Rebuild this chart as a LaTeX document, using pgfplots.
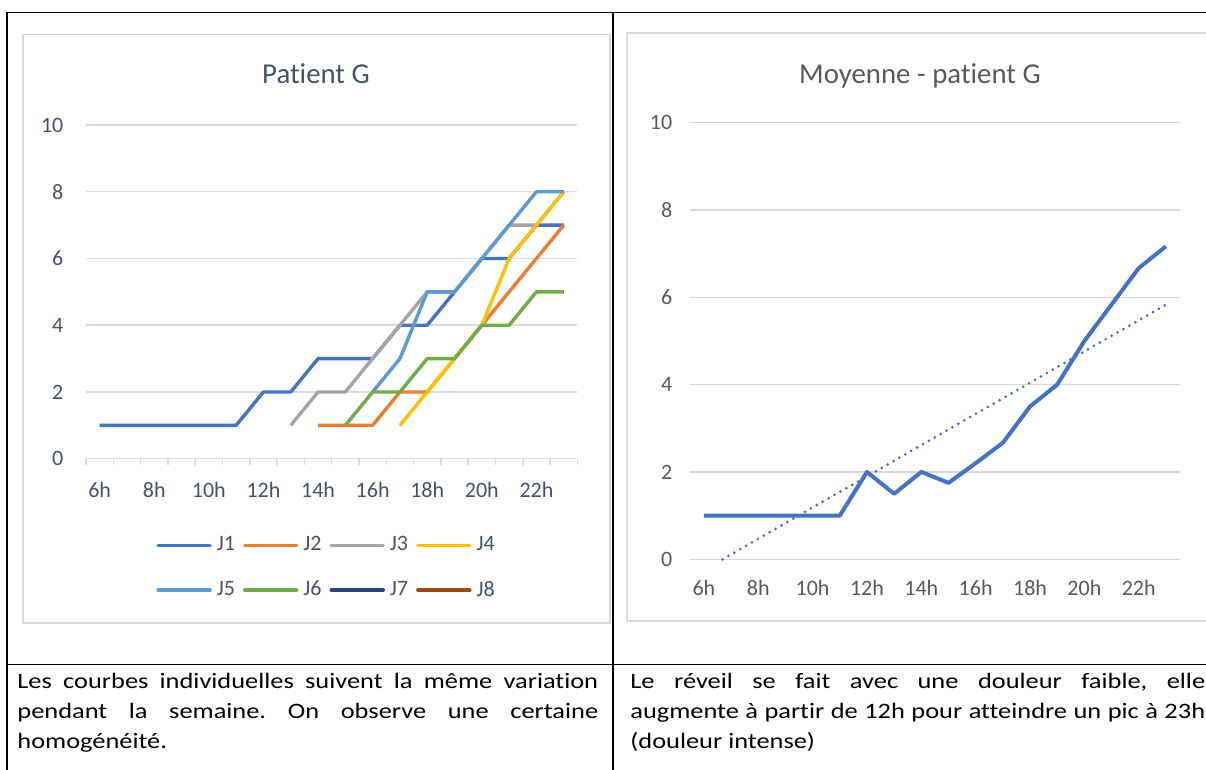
\documentclass[border=0pt]{standalone}
\usepackage{fontspec}
\setmainfont{Carlito}[Ligatures={NoCommon}]
\usepackage{graphicx}
\usepackage{pgfplots}
\pgfplotsset{compat=1.18}

\definecolor{cJ1}{HTML}{4472C4}
\definecolor{cJ2}{HTML}{ED7D31}
\definecolor{cJ3}{HTML}{A5A5A5}
\definecolor{cJ4}{HTML}{FFC000}
\definecolor{cJ5}{HTML}{5B9BD5}
\definecolor{cJ6}{HTML}{70AD47}
\definecolor{cJ7}{HTML}{264478}
\definecolor{cJ8}{HTML}{9E480E}
\definecolor{cTxtL}{HTML}{44546A}
\definecolor{cTxtR}{HTML}{595959}
\definecolor{cGridL}{HTML}{D6DCE5}
\definecolor{cGridR}{HTML}{D9D9D9}
\definecolor{cFrame}{HTML}{D9D9D9}

\begin{document}
\frenchspacing
\begin{tikzpicture}
\useasboundingbox (0pt,0pt) rectangle (603pt,-385pt);
\begin{scope}[x=0.5pt,y=-0.5pt]
 \draw[black, line width=0.8pt] (7,12.7) -- (1212,12.7);
 \draw[black, line width=0.8pt] (7,12.3) -- (7,775);
 \draw[black, line width=0.8pt] (613,12.3) -- (613,775);
 \draw[black, line width=0.8pt] (7,664.5) -- (1212,664.5);
 \draw[cFrame, line width=0.8pt] (23,34.5) rectangle (610,622.7);
 \draw[cFrame, line width=0.8pt] (1212,33) -- (627,33) -- (627,621) -- (1212,621);
\end{scope}

\node[anchor=base west, inner sep=0pt] at (8.5pt,-344pt) {\scalebox{1.2}[1]{\parbox[t]{242pt}{\fontsize{11}{15}\selectfont\frenchspacing\tolerance=10000\hbadness=10000 Les courbes individuelles suivent la même variation\linebreak pendant la semaine. On observe une certaine\linebreak homogénéité.}}};
\node[anchor=base west, inner sep=0pt] at (315pt,-344pt) {\scalebox{1.2}[1]{\parbox[t]{239.5pt}{\fontsize{11}{15}\selectfont\frenchspacing\tolerance=10000\hbadness=10000 Le réveil se fait avec une douleur faible, elle\linebreak augmente à partir de 12h pour atteindre un pic à 23h\linebreak (douleur intense)}}};

% ---------------- left chart ----------------
\begin{axis}[
  at={(43pt,-229.35pt)}, anchor=south west,
  scale only axis, width=245.7pt, height=166.85pt,
  xmin=5.5, xmax=23.5, ymin=0, ymax=10, clip=false,
  xtick={6,8,...,22}, xticklabels={6h,8h,10h,12h,14h,16h,18h,20h,22h},
  minor xtick={5.5,6.5,...,23.5},
  ytick={0,2,...,10},
  ymajorgrids, major grid style={draw=cGridL, line width=0.75pt},
  axis line style={draw=none},
  tick align=outside, xtick pos=left, ytick pos=left,
  major tick length=0pt, minor tick length=3pt,
  minor tick style={draw=cGridL, line width=0.75pt},
  /pgf/number format/assume math mode=true,
  ticklabel style={font=\fontsize{11}{13}\selectfont, text=cTxtL},
  xticklabel shift=8pt, yticklabel shift=7.8pt,
  title={Patient G},
  title style={font=\fontsize{14.4}{17}\selectfont, text=cTxtL, at={(0.5,1)}, anchor=base, yshift=14.8pt, xshift=-7.85pt},
  every axis plot/.append style={line width=1.7pt, line join=round},
  legend columns=4,
  legend style={draw=none, fill=none, at={(0.1425,-0.2296)}, anchor=north west, inner sep=0pt, row sep=12.5pt,
    font=\fontsize{11}{13}\selectfont, text=cTxtL,
    /tikz/every odd column/.append style={column sep=2pt},
    /tikz/every even column/.append style={column sep=3.5pt},
    nodes={inner sep=0.5pt}},
  legend image code/.code={\draw[#1, line width=1.7pt, line cap=round] (0pt,0pt) -- (26pt,0pt);},
]
\addplot[cJ1] coordinates {(6,1)(7,1)(8,1)(9,1)(10,1)(11,1)(12,2)(13,2)(14,3)(15,3)(16,3)(17,4)(18,4)(19,5)(20,6)(21,6)(22,7)(23,7)};
\addlegendentry{J1}
\addplot[cJ2] coordinates {(14,1)(15,1)(16,1)(17,2)(18,2)(19,3)(20,4)(21,5)(22,6)(23,7)};
\addlegendentry{J2}
\addplot[cJ3] coordinates {(13,1)(14,2)(15,2)(16,3)(17,4)(18,5)(19,5)(20,6)(21,7)(22,7)(23,8)};
\addlegendentry{J3}
\addplot[cJ4] coordinates {(17,1)(18,2)(19,3)(20,4)(21,6)(22,7)(23,8)};
\addlegendentry{J4}
\addplot[cJ5] coordinates {(16,2)(17,3)(18,5)(19,5)(20,6)(21,7)(22,8)(23,8)};
\addlegendentry{J5}
\addplot[cJ6] coordinates {(15,1)(16,2)(17,2)(18,3)(19,3)(20,4)(21,4)(22,5)(23,5)};
\addlegendentry{J6}
\addlegendimage{cJ7}
\addlegendentry{J7}
\addlegendimage{cJ8}
\addlegendentry{J8}
\end{axis}

% ---------------- right chart ----------------
\begin{axis}[
  at={(345.15pt,-279.65pt)}, anchor=south west,
  scale only axis, width=244.6pt, height=218.35pt,
  xmin=5.5, xmax=23.5, ymin=0, ymax=10, clip=false,
  xtick={6,8,...,22}, xticklabels={6h,8h,10h,12h,14h,16h,18h,20h,22h},
  ytick={0,2,...,10},
  ymajorgrids, major grid style={draw=cGridR, line width=0.75pt},
  axis line style={draw=none},
  tick style={draw=none}, major tick length=0pt,
  /pgf/number format/assume math mode=true,
  ticklabel style={font=\fontsize{11}{13}\selectfont, text=cTxtR},
  xticklabel shift=7pt, yticklabel shift=5.5pt,
  title={Moyenne - patient G},
  title style={font=\fontsize{14.4}{17}\selectfont, text=cTxtR, at={(0.5,1)}, anchor=base, yshift=13.5pt, xshift=-7.45pt},
]
\addplot[cJ1, line width=2pt, line join=round] coordinates {(6,1)(7,1)(8,1)(9,1)(10,1)(11,1)(12,2)(13,1.5)(14,2)(15,1.75)(16,2.2)(17,2.667)(18,3.5)(19,4)(20,5)(21,5.833)(22,6.667)(23,7.167)};
\addplot[cJ1, line width=1.5pt, line cap=round, dash pattern=on 0pt off 3.4pt] coordinates {(6.684,0)(23,5.831)};
\end{axis}
\end{tikzpicture}
\end{document}
